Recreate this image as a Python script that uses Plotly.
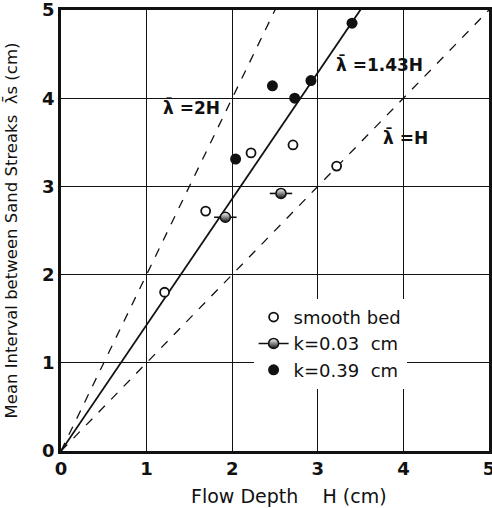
import plotly.graph_objects as go

# ---- data ----
smooth_H = [1.21, 1.69, 2.22, 2.71, 3.22]
smooth_L = [1.80, 2.72, 3.38, 3.47, 3.23]
k003_H = [1.92, 2.57]
k003_L = [2.65, 2.92]
k039_H = [2.04, 2.47, 2.73, 2.92, 3.40]
k039_L = [3.31, 4.14, 4.00, 4.20, 4.85]

ref_H = [0, 5]
ref_ratios = [2.0, 1.43, 1.0]
ref_styles = ["dash", "solid", "dash"]
ref_labels = ["λ̄ =2H", "λ̄ =1.43H", "λ̄ =H"]
ref_label_pos = [(1.53, 3.89), (3.72, 4.38), (4.03, 3.55)]

tick_vals = [0, 1, 2, 3, 4, 5]
tick_text = ["0", "1", "2", "3", "4", "5"]

FONT = "DejaVu Sans"
BLACK = "#111111"

fig = go.Figure()

# reference lines
for r, dash in zip(ref_ratios, ref_styles):
    fig.add_trace(go.Scatter(
        x=ref_H, y=[r * h for h in ref_H], mode="lines",
        line=dict(color=BLACK, width=1.8 if dash == "solid" else 1.3,
                  dash="dash" if dash == "dash" else "solid"),
        showlegend=False, hoverinfo="skip"))

# smooth bed
fig.add_trace(go.Scatter(
    x=smooth_H, y=smooth_L, mode="markers", name="smooth bed",
    marker=dict(symbol="circle", size=9, color="white", line=dict(color=BLACK, width=1.8)),
    legendrank=1, legendgroup="a"))

# k = 0.03 cm : bar through a half-filled circle
fig.add_trace(go.Scatter(
    x=k003_H, y=k003_L, mode="markers", showlegend=False,
    marker=dict(symbol="line-ew", size=16, line=dict(color=BLACK, width=1.6))))
fig.add_trace(go.Scatter(
    x=k003_H, y=k003_L, mode="markers", showlegend=False,
    marker=dict(symbol="circle", size=10, color="white",
                gradient=dict(type="vertical", color=BLACK),
                line=dict(color=BLACK, width=1.6))))
fig.add_trace(go.Scatter(
    x=[None], y=[None], mode="lines+markers", name="k=0.03  cm",
    line=dict(color=BLACK, width=1.6),
    marker=dict(symbol="circle", size=10, color="white",
                gradient=dict(type="vertical", color=BLACK),
                line=dict(color=BLACK, width=1.6)),
    legendrank=2, legendgroup="b"))

# k = 0.39 cm
fig.add_trace(go.Scatter(
    x=k039_H, y=k039_L, mode="markers", name="k=0.39  cm",
    marker=dict(symbol="circle", size=11, color=BLACK, line=dict(color=BLACK, width=0)),
    legendrank=3, legendgroup="c"))

for txt, (x, y) in zip(ref_labels, ref_label_pos):
    fig.add_annotation(x=x, y=y, text=txt, showarrow=False,
                       font=dict(family=FONT, size=17, color=BLACK, weight="bold"),
                       xanchor="center", yanchor="middle")

# axis titles
fig.add_annotation(xref="paper", yref="paper", x=-0.1145, y=0.5,
                   text="Mean Interval between Sand Streaks  λ̄s (cm)",
                   textangle=-90, showarrow=False,
                   font=dict(family=FONT, size=16.5, color=BLACK),
                   xanchor="center", yanchor="middle")
fig.add_annotation(xref="paper", yref="paper", x=0.533, y=-0.102,
                   text="Flow Depth    H (cm)", showarrow=False,
                   font=dict(family=FONT, size=19, color=BLACK),
                   xanchor="center", yanchor="middle")

axis_common = dict(
    range=[0, 5], tickvals=tick_vals, ticktext=tick_text,
    showgrid=True, gridcolor=BLACK, gridwidth=1,
    showline=True, linecolor=BLACK, linewidth=2.5, mirror=True,
    zeroline=False, ticks="", ticklabeloverflow="allow",
    tickfont=dict(family=FONT, size=18, color=BLACK, weight="bold"),
)

fig.update_layout(
    width=492, height=508,
    margin=dict(l=61, r=3, t=10, b=57, autoexpand=False),
    paper_bgcolor="white", plot_bgcolor="white",
    xaxis=dict(**axis_common, automargin=False),
    yaxis=dict(**axis_common, automargin=False),
    legend=dict(x=0.45, y=0.345, xanchor="left", yanchor="top",
                bgcolor="white", borderwidth=0,
                font=dict(family=FONT, size=18, color=BLACK),
                traceorder="grouped", tracegroupgap=0, itemwidth=30),
    showlegend=True,
)

# remove the default page-body margin so the figure fills the window exactly
fig.write_html("out.html", config={"displayModeBar": False},
               post_script="document.body.style.margin='0px';")
